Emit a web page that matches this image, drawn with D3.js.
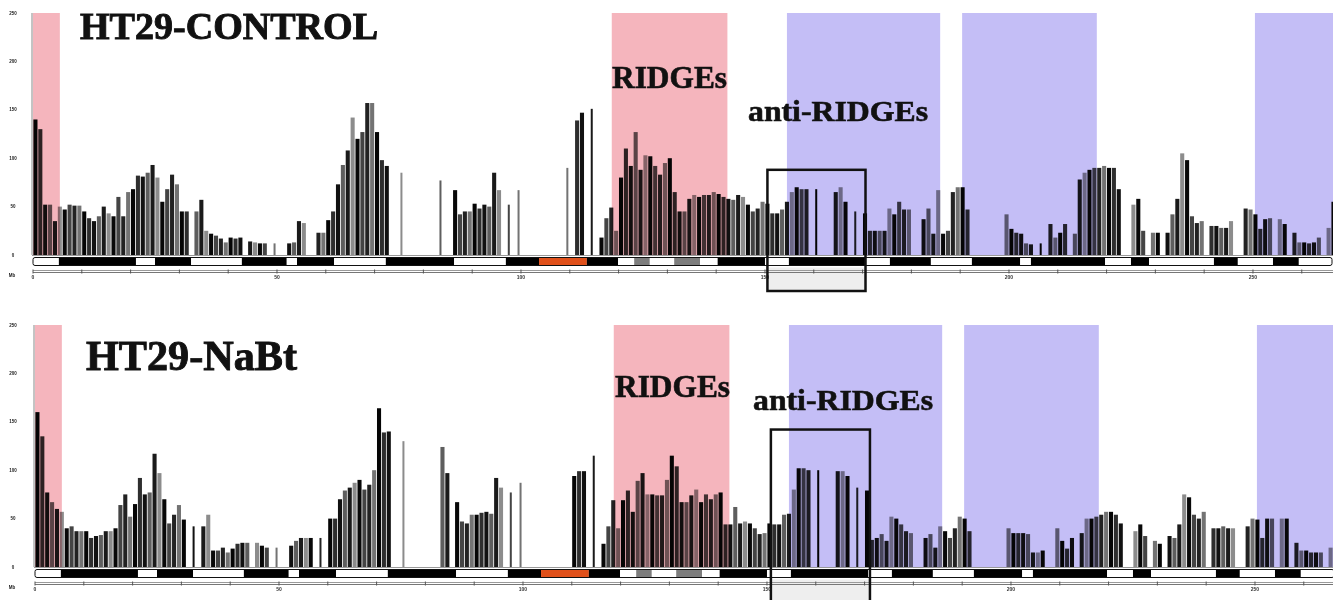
<!DOCTYPE html>
<html><head><meta charset="utf-8">
<script src="https://cdn.jsdelivr.net/npm/d3@7"></script>
<style>body{margin:0;background:#fff}svg{display:block}</style>
</head><body><svg id="c" width="1333" height="600"></svg>
<script>
// Signal per 1-Mb bin along the chromosome (bin i covers i..i+1 Mb)
const controlValues = [
140,130,52,52,35,50,47,52,51,51,
45,38,35,40,50,43,40,60,40,65,
68,82,81,85,93,80,55,68,83,73,
45,45,0,45,57,25,22,20,17,13,
18,17,18,0,14,13,12,12,0,12,
0,0,12,13,35,33,0,0,23,23,
36,45,73,93,108,142,120,127,157,157,
127,98,92,0,0,85,0,0,0,0,
0,0,0,77,0,0,67,42,45,45,
53,48,52,50,85,67,0,52,0,67,
0,0,0,0,0,0,0,0,0,90,
0,139,147,0,151,0,18,38,49,25,
80,110,92,127,88,103,102,92,83,95,
100,65,45,45,58,62,60,62,62,65,
63,60,58,57,62,60,52,45,48,55,
53,43,43,47,55,65,70,68,68,0,
68,0,0,0,65,70,55,0,45,0,
43,25,25,25,25,48,42,55,47,47,
0,0,37,48,22,67,22,25,65,70,
70,47,0,0,0,0,0,0,0,42,
27,23,22,12,11,0,12,0,32,18,
23,32,0,22,78,85,88,90,90,92,
90,90,68,0,0,52,58,25,0,23,
23,0,23,42,58,105,98,40,33,35,
0,30,30,28,28,35,0,0,48,47,
42,27,37,38,0,37,32,0,23,13,
13,12,13,18,0,28,55
];
const nabtValues = [
160,135,77,67,60,57,40,42,37,37,
37,30,32,33,37,37,40,64,75,52,
65,92,75,77,117,97,70,45,54,64,
49,0,42,0,42,54,17,17,20,15,
19,24,25,25,0,25,22,20,0,20,
0,0,22,27,30,30,30,0,30,0,
50,50,70,79,82,87,90,80,85,100,
164,139,140,0,0,130,0,0,0,0,
0,0,0,124,97,0,67,47,45,54,
54,56,57,55,92,82,0,77,0,87,
0,0,0,0,0,0,0,0,0,0,
94,99,99,0,115,0,24,42,69,40,
69,79,57,89,97,75,75,74,74,90,
115,104,67,67,74,80,67,75,70,75,
77,44,44,62,45,47,45,40,34,35,
45,44,44,54,55,80,102,102,100,0,
100,0,0,0,99,99,94,0,82,0,
79,28,30,34,27,52,50,44,37,35,
0,0,30,34,20,42,37,30,40,52,
50,37,0,0,0,0,0,0,0,40,
35,35,35,34,15,15,17,0,0,40,
27,19,30,0,35,50,50,52,54,57,
57,54,45,0,0,37,44,32,0,27,
24,0,32,30,44,75,72,54,50,57,
0,40,40,42,40,40,0,0,42,50,
49,30,50,50,0,50,50,0,25,17,
17,15,15,15,0,20,30
];
const yTickValues = [0, 50, 100, 150, 200, 250];
const rulerTicks = [0,10,20,30,40,50,60,70,80,90,100,110,120,130,140,150,160,170,180,190,200,210,220,230,240,250,260];
const rulerLabels = [0, 50, 100, 150, 200, 250];
const ridgeRegions = [[0, 5.5], [118.6, 142.3]];
const antiRidgeRegions = [[154.5, 185.9], [190.4, 218.0], [250.4, 266.4]];
const ideogramBands = [
 [0,5.3,'w'],[5.3,21.1,'b'],[21.1,25,'w'],[25,32.4,'b'],[32.4,42.8,'w'],[42.8,52,'b'],
 [52,54.1,'w'],[54.1,61.7,'b'],[61.7,72.3,'w'],[72.3,86.3,'b'],[86.3,96.9,'w'],[96.9,103.7,'b'],
 [103.7,113.5,'o'],[113.5,119.9,'b'],[119.9,123.2,'w'],[123.2,126.4,'g'],[126.4,131.4,'w'],
 [131.4,136.7,'g'],[136.7,140.3,'w'],[140.3,150,'b'],[150,154.9,'w'],[154.9,170.7,'b'],
 [170.7,175.6,'w'],[175.6,184,'b'],[184,192.4,'w'],[192.4,202.3,'b'],[202.3,204.5,'w'],
 [204.5,219.7,'b'],[219.7,225,'w'],[225,228.7,'b'],[228.7,242,'w'],[242,246.9,'b'],
 [246.9,254.1,'w'],[254.1,259.4,'b'],[259.4,266.4,'w']
];
const panelTitles = ["HT29-CONTROL", "HT29-NaBt"];

const panels = [
  {title: panelTitles[0], values: controlValues, x0: 33, base: 255, box: [150.5, 170.6], boxTop: 88, boxBottom: 291,
   titleX: 80, titleY: 39, titleSize: 37, titleLen: 298,
   ridgeLabel: [669.5, 88], antiLabel: [838, 121]},
  {title: panelTitles[1], values: nabtValues, x0: 35, base: 567, box: [150.8, 171.1], boxTop: 142, boxBottom: 606,
   titleX: 86, titleY: 370, titleSize: 42, titleLen: 211,
   ridgeLabel: [672.5, 397], antiLabel: [843, 410]}
];

const svg = d3.select("#c");
const shades = ['#050505','#2e2e2e','#111','#5e5e5e','#1a1a1a','#8c8c8c','#080808','#444','#222','#737373'];
const bandColor = {w:'#fff', b:'#000', o:'#e0501a', g:'#7d7d7d'};

panels.forEach(p => {
  const x = d3.scaleLinear().domain([0, 266.4]).range([p.x0, p.x0 + 1300]);
  const y = d3.scaleLinear().domain([0, 250]).range([p.base, p.base - 242]);
  const g = svg.append("g");
  const bw = x(1) - x(0);
  const isolated = i => (p.values[i-1] || 0) === 0 && (p.values[i+1] || 0) === 0;

  // bars
  g.append("g").selectAll("rect").data(p.values).join("rect")
    .attr("x", (d, i) => isolated(i) ? x(i) + bw/2 - 1 : x(i) + 0.4)
    .attr("width", (d, i) => isolated(i) ? 2 : bw - 0.8)
    .attr("y", d => y(d))
    .attr("height", d => y(0) - y(d))
    .attr("fill", (d, i) => shades[i % shades.length]);

  // shaded regions (multiply over bars)
  const shade = g.append("g");
  shade.selectAll("rect.r").data(ridgeRegions).join("rect").attr("class","r")
    .attr("x", d => x(d[0])).attr("width", d => x(d[1]) - x(d[0]))
    .attr("y", y(250)).attr("height", y(0) - y(250))
    .attr("fill", "#f5b5bd").style("mix-blend-mode", "multiply");
  shade.selectAll("rect.a").data(antiRidgeRegions).join("rect").attr("class","a")
    .attr("x", d => x(d[0])).attr("width", d => Math.min(x(d[1]), 1333) - x(d[0]))
    .attr("y", y(250)).attr("height", y(0) - y(250))
    .attr("fill", "#c4bef6").style("mix-blend-mode", "multiply");

  // y axis
  g.append("line").attr("x1", p.x0 - 1).attr("x2", p.x0 - 1)
    .attr("y1", y(250)).attr("y2", y(0)).attr("stroke", "#888").attr("stroke-width", 1);
  g.append("line").attr("x1", p.x0 - 1).attr("x2", 1333)
    .attr("y1", y(0) + 0.5).attr("y2", y(0) + 0.5).attr("stroke", "#999").attr("stroke-width", 1);
  g.selectAll("text.yt").data(yTickValues).join("text").attr("class","yt")
    .attr("x", 13).attr("y", d => y(d) + 1.5)
    .attr("text-anchor", "middle").attr("font-family", "Liberation Sans, sans-serif")
    .attr("font-size", 4.5).attr("font-weight", "bold").attr("fill", "#222")
    .text(d => d);

  // ideogram
  const iy = p.base + 2.5, ih = 8;
  const ruleY = iy + ih + 5;
  g.append("rect").attr("x", x(p.box[0])).attr("width", x(p.box[1]) - x(p.box[0]))
    .attr("y", iy + ih + 2).attr("height", p.boxBottom - (iy + ih + 2))
    .attr("fill", "#eeeeee");
  g.append("g").selectAll("rect").data(ideogramBands).join("rect")
    .attr("x", d => x(d[0])).attr("width", d => x(d[1]) - x(d[0]))
    .attr("y", iy).attr("height", ih)
    .attr("fill", d => bandColor[d[2]]);
  g.append("rect").attr("x", x(0)).attr("width", x(266.4) - x(0) - 1)
    .attr("y", iy).attr("height", ih).attr("rx", 2)
    .attr("fill", "none").attr("stroke", "#111").attr("stroke-width", 1);

  // ruler
  g.append("line").attr("x1", x(0)).attr("x2", 1333).attr("y1", ruleY).attr("y2", ruleY)
    .attr("stroke", "#9a9a9a").attr("stroke-width", 1);
  g.append("line").attr("x1", x(0)).attr("x2", 1333).attr("y1", ruleY + 2).attr("y2", ruleY + 2)
    .attr("stroke", "#777").attr("stroke-width", 1);
  g.selectAll("line.rt").data(rulerTicks).join("line").attr("class","rt")
    .attr("x1", d => x(d)).attr("x2", d => x(d))
    .attr("y1", ruleY - 1).attr("y2", ruleY + 3).attr("stroke", "#555").attr("stroke-width", 1);
  g.selectAll("text.rl").data(rulerLabels).join("text").attr("class","rl")
    .attr("x", d => x(d)).attr("y", ruleY + 8)
    .attr("text-anchor", "middle").attr("font-family", "Liberation Sans, sans-serif")
    .attr("font-size", 5).attr("font-weight", "bold").attr("fill", "#333")
    .text(d => d);
  g.append("text").attr("x", 12).attr("y", ruleY + 6).attr("text-anchor", "middle")
    .attr("font-family", "Liberation Sans, sans-serif").attr("font-size", 4.5)
    .attr("font-weight", "bold").attr("fill", "#222").text("Mb");

  // box
  g.append("rect").attr("x", x(p.box[0])).attr("width", x(p.box[1]) - x(p.box[0]))
    .attr("y", y(p.boxTop)).attr("height", p.boxBottom - y(p.boxTop))
    .attr("fill", "none").attr("stroke", "#111").attr("stroke-width", 2.5);

  // labels
  const serif = "Liberation Serif, Times New Roman, serif";
  g.append("text").attr("x", p.titleX).attr("y", p.titleY)
    .attr("font-family", serif).attr("font-weight", "bold").attr("font-size", p.titleSize)
    .attr("textLength", p.titleLen).attr("lengthAdjust", "spacingAndGlyphs")
    .attr("fill", "#111").attr("stroke", "#111").attr("stroke-width", 0.9)
    .text(p.title);
  g.append("text").attr("x", p.ridgeLabel[0]).attr("y", p.ridgeLabel[1]).attr("text-anchor", "middle")
    .attr("font-family", serif).attr("font-weight", "bold").attr("font-size", 32)
    .attr("textLength", 115).attr("lengthAdjust", "spacingAndGlyphs")
    .attr("fill", "#111").attr("stroke", "#111").attr("stroke-width", 0.6)
    .text("RIDGEs");
  g.append("text").attr("x", p.antiLabel[0]).attr("y", p.antiLabel[1]).attr("text-anchor", "middle")
    .attr("font-family", serif).attr("font-weight", "bold").attr("font-size", 30)
    .attr("textLength", 180).attr("lengthAdjust", "spacingAndGlyphs")
    .attr("fill", "#111").attr("stroke", "#111").attr("stroke-width", 0.6)
    .text("anti-RIDGEs");
});
</script></body></html>
